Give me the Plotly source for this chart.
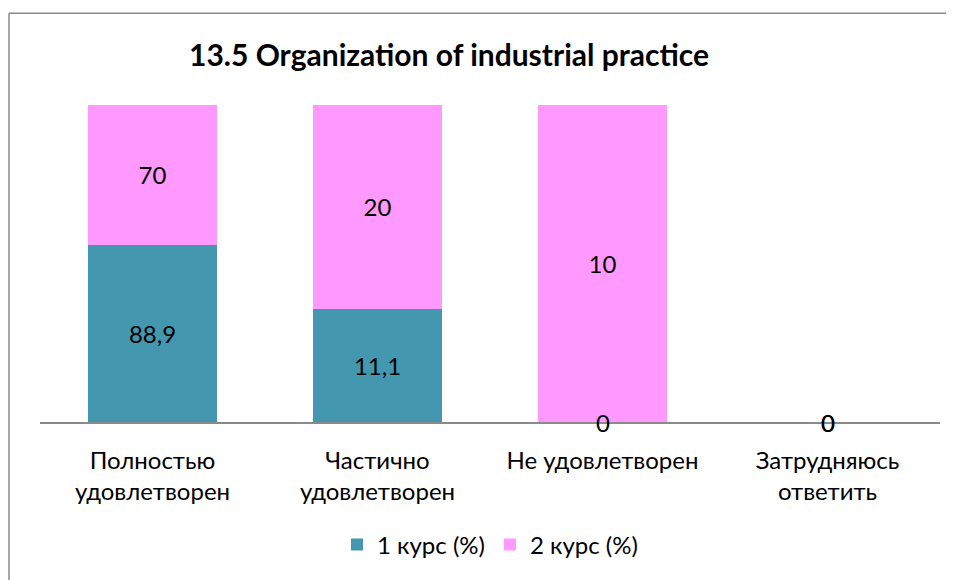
import plotly.graph_objects as go

categories = ["Полностью<br>удовлетворен", "Частично<br>удовлетворен", "Не удовлетворен", "Затрудняюсь<br>ответить"]
course1 = [88.9, 11.1, 0, 0]
course2 = [70, 20, 10, 0]
series_names = ["1 курс (%)", "2 курс (%)"]
title_text = "13.5 Organization of industrial practice"

TEAL = "#4398B0"
PINK = "#FF99FF"
FONT = "Lato, 'Open Sans', sans-serif"
OFF = 8  # page body margin offset
W, H = 954 - OFF, 580 - OFF

def fmt(v):
    return ("%g" % v).replace(".", ",")

fig = go.Figure()
for name, vals, col in [(series_names[0], course1, TEAL), (series_names[1], course2, PINK)]:
    fig.add_trace(go.Bar(
        x=categories, y=vals, name=name, marker=dict(color=col, line=dict(width=0)),
        text=[fmt(v) if v != 0 else "" for v in vals],
        textposition="inside", insidetextanchor="middle", textangle=0,
        constraintext="none",
        textfont=dict(family=FONT, size=24, color="black"),
    ))

# zero-value labels sit on the axis line
for vals in (course1, course2):
    for c, v in zip(categories, vals):
        if v == 0:
            fig.add_annotation(x=c, y=0, xref="x", yref="y", text=fmt(v), showarrow=False,
                               yanchor="middle", font=dict(family=FONT, size=24, color="black"))

# chart-area border (top and left edges visible; right/bottom fall outside the picture)
bx0 = (9 - 40) / 900
by1 = (425 - 12.5) / 320
fig.add_shape(type="line", xref="paper", yref="paper", x0=bx0, x1=(960 - 40) / 900, y0=by1, y1=by1,
              line=dict(color="#8A8A8A", width=1.5), layer="below")
fig.add_shape(type="line", xref="paper", yref="paper", x0=bx0, x1=bx0, y0=(425 - 600) / 320, y1=by1,
              line=dict(color="#8A8A8A", width=1.5), layer="below")

fig.update_layout(
    width=W, height=H,
    margin=dict(l=40 - OFF, r=W + OFF - 940, t=105 - OFF, b=H + OFF - 425),
    barmode="stack", barnorm="percent", bargap=0.43,
    paper_bgcolor="white", plot_bgcolor="white",
    separators=", ",
    title=dict(text="<b>" + title_text + "</b>", x=(449 - OFF) / W,
               xanchor="center", y=1 - (55 - OFF) / H, yanchor="middle",
               font=dict(family=FONT, size=30, color="black")),
    xaxis=dict(showline=True, linecolor="#8A8A8A", linewidth=1.5, ticks="", showgrid=False,
               tickfont=dict(family=FONT, size=24, color="black"), ticklabelstandoff=16),
    yaxis=dict(range=[0, 100], visible=False, showgrid=False, zeroline=False),
    legend=dict(orientation="h", x=(490 - 40) / 900, xanchor="center", y=(425 - 549) / 320, yanchor="middle",
                font=dict(family=FONT, size=24, color="black"), traceorder="normal",
                itemwidth=30),
    showlegend=True,
)

fig.write_html("out.html",
               post_script="document.documentElement.style.overflow='hidden';document.body.style.overflow='hidden';")
